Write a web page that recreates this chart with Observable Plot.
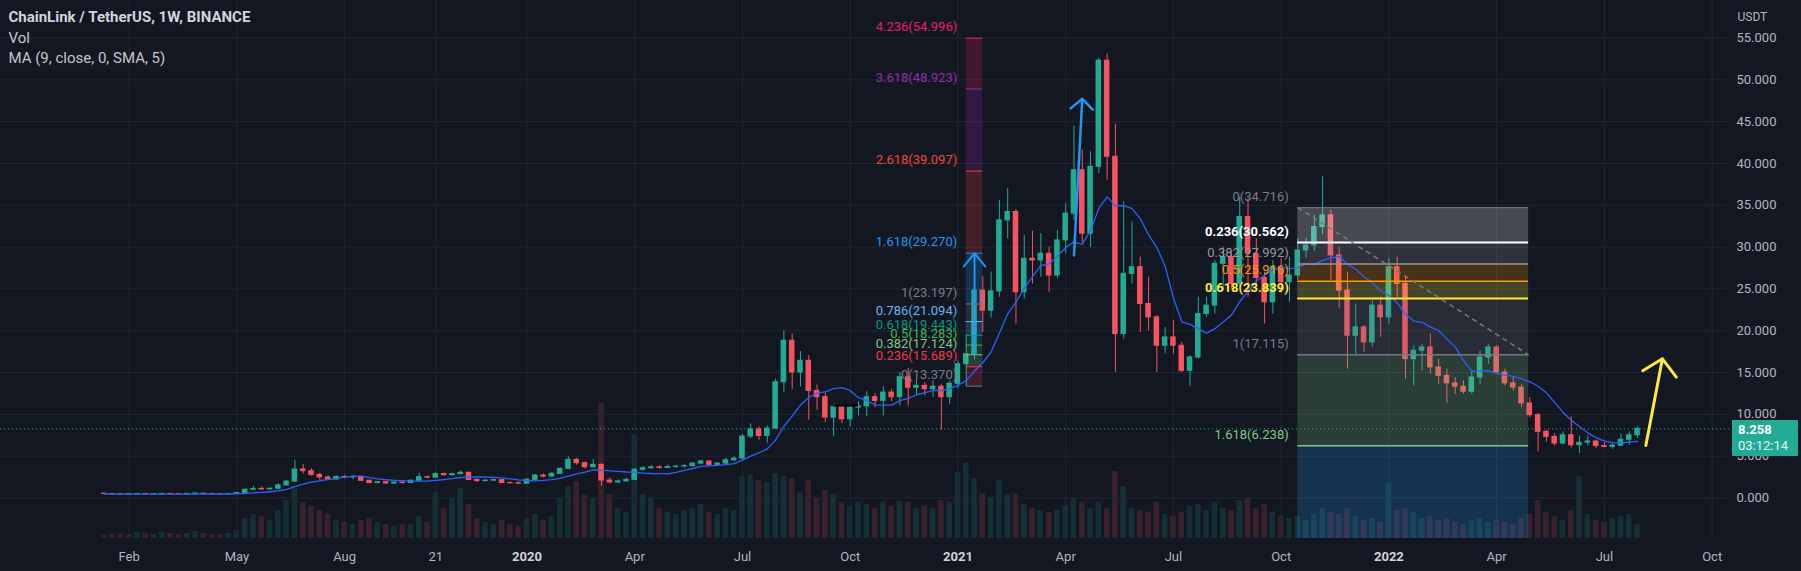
<!DOCTYPE html>
<html><head><meta charset="utf-8">
<script src="https://cdn.jsdelivr.net/npm/d3@7"></script>
<script src="https://cdn.jsdelivr.net/npm/@observablehq/plot@0.6"></script>
<style>
html,body{margin:0;padding:0;background:#131722;}
#wrap{position:relative;width:1801px;height:571px;overflow:hidden;background:#131722;font-family:Roboto,"Liberation Sans",sans-serif;}
#wrap svg{position:absolute;left:0;top:0;}
#pbox{position:absolute;background:#22ab94;color:#fff;font-size:13px;line-height:16px;padding:2px 0 0 6px;box-sizing:border-box;}
</style></head><body><div id="wrap"></div>
<script>
// ---- weekly candles LINK/USDT (Binance), Jan 14 2019 .. Aug 1 2022 ----
const firstWeek = "2019-01-14", afterLastWeek = "2022-08-02";
const opens = [
0.50,0.47,0.44,0.42,0.45,0.47,0.44,0.46,0.48,0.45,
0.44,0.48,0.52,0.48,0.46,0.44,0.48,0.58,0.98,1.08,
1.02,1.10,1.50,1.95,3.40,3.20,2.75,2.45,2.20,2.50,
2.45,2.50,2.05,1.78,1.88,1.72,1.84,1.78,2.05,2.48,
2.42,2.85,2.72,2.84,3.00,2.15,2.02,2.06,2.14,1.78,
1.75,1.70,2.16,2.68,2.55,2.88,3.47,4.55,4.15,3.67,
3.96,2.08,1.85,1.98,2.16,3.36,3.55,3.65,3.58,3.70,
3.75,3.80,4.10,4.35,3.95,4.10,4.50,4.70,7.34,8.20,
7.40,8.30,13.84,18.80,15.00,16.40,12.80,12.05,9.60,10.85,
9.40,10.80,10.95,12.05,11.60,12.60,12.05,14.44,13.17,13.40,
13.00,13.30,12.05,13.65,16.00,17.20,24.80,22.40,24.70,33.20,
34.20,24.60,28.60,28.40,29.20,26.60,30.80,34.00,39.20,31.60,
39.60,52.30,40.80,19.60,26.80,27.60,23.20,21.60,18.20,19.20,
18.20,15.20,16.80,22.00,23.00,28.00,28.80,25.60,33.60,29.20,
26.30,23.40,27.60,25.80,26.60,29.60,30.20,32.40,33.80,29.00,
24.80,19.40,20.40,18.60,23.00,21.60,27.60,25.60,16.60,17.60,
18.00,15.60,14.60,13.70,13.30,12.70,14.40,16.80,18.00,15.00,
13.70,13.20,11.30,9.90,7.90,7.30,6.50,7.50,6.30,6.60,
6.75,6.20,6.10,6.25,6.95,7.50];
const highs = [
0.58,0.49,0.46,0.47,0.49,0.52,0.47,0.50,0.50,0.48,
0.50,0.60,0.55,0.50,0.48,0.50,0.60,1.05,1.35,1.30,
1.15,1.70,2.10,4.50,4.00,3.50,2.95,2.60,2.65,2.70,
2.65,2.60,2.15,1.95,1.95,1.88,1.92,2.15,2.95,2.65,
3.00,2.98,2.95,3.25,3.10,2.30,2.20,2.25,2.20,1.90,
1.92,2.30,2.80,2.85,3.05,3.60,4.90,4.75,4.30,4.60,
4.05,2.40,2.15,2.30,3.50,3.75,3.90,3.85,3.95,3.90,
4.00,4.20,4.50,4.45,4.25,4.75,4.95,7.60,8.85,8.50,
8.60,14.20,20.00,19.60,17.50,17.00,13.50,12.50,11.20,11.00,
11.00,11.50,12.70,12.50,13.30,13.00,15.00,15.50,14.20,13.80,
14.00,13.60,14.00,16.40,19.50,25.90,26.50,27.00,35.60,37.00,
34.50,31.40,31.90,31.60,30.00,32.00,35.20,44.50,41.60,41.40,
52.60,53.10,44.70,35.40,33.00,28.80,26.40,21.80,20.40,21.20,
18.60,17.00,24.00,24.00,28.40,30.00,29.50,36.00,35.80,31.00,
27.00,28.40,28.60,28.80,31.00,31.00,33.80,38.40,34.40,30.00,
27.00,23.20,20.60,23.60,24.00,28.60,28.80,26.40,18.20,18.40,
19.60,16.60,15.40,14.40,14.00,15.20,17.60,18.40,18.20,15.40,
14.40,13.60,12.00,10.10,8.10,7.70,7.90,9.70,7.40,7.40,
6.90,6.60,6.50,7.60,7.90,8.50];
const lows = [
0.44,0.42,0.39,0.41,0.44,0.42,0.41,0.44,0.44,0.43,
0.43,0.46,0.46,0.44,0.41,0.43,0.47,0.55,0.90,0.92,
0.90,1.05,1.45,1.90,2.88,2.60,2.10,2.10,2.10,2.30,
2.20,1.95,1.70,1.70,1.62,1.60,1.65,1.72,2.00,2.30,
2.35,2.60,2.62,2.78,2.08,1.85,1.88,1.95,1.70,1.68,
1.65,1.66,2.10,2.40,2.45,2.80,3.40,3.90,3.45,3.60,
1.40,1.70,1.78,1.90,2.10,3.20,3.40,3.45,3.50,3.55,
3.60,3.70,3.95,3.85,3.90,4.05,4.40,4.65,7.10,6.90,
6.55,8.20,12.60,13.00,13.30,9.30,10.50,9.00,7.30,8.90,
8.50,9.80,9.70,10.80,9.80,11.50,11.00,11.00,12.30,12.20,
12.00,8.10,11.20,13.05,13.37,16.50,19.80,21.50,24.00,31.00,
20.80,23.80,25.60,26.40,24.60,26.20,29.20,33.20,30.50,30.00,
38.80,38.00,15.00,19.00,25.60,19.80,20.00,15.00,17.20,17.20,
15.00,13.30,16.60,21.60,22.00,24.80,25.00,25.20,24.00,25.50,
20.80,22.00,24.50,23.40,26.00,28.70,29.50,31.50,26.00,22.60,
15.40,17.20,17.40,18.00,19.20,20.80,24.00,14.20,13.40,15.20,
14.80,13.60,11.30,12.40,12.40,12.40,13.60,16.00,14.80,13.40,
12.80,10.80,9.60,5.50,6.70,6.20,6.40,6.00,5.30,6.20,
5.90,6.00,5.80,6.20,6.30,7.10];
const closes = [
0.47,0.44,0.42,0.45,0.47,0.44,0.46,0.48,0.45,0.44,
0.48,0.52,0.48,0.46,0.44,0.48,0.58,0.98,1.08,1.02,
1.10,1.50,1.95,3.40,3.20,2.75,2.45,2.20,2.50,2.45,
2.50,2.05,1.78,1.88,1.72,1.84,1.78,2.05,2.48,2.42,
2.85,2.72,2.84,3.00,2.15,2.02,2.06,2.14,1.78,1.75,
1.70,2.16,2.68,2.55,2.88,3.47,4.55,4.15,3.67,3.96,
2.08,1.85,1.98,2.16,3.36,3.55,3.65,3.58,3.70,3.75,
3.80,4.10,4.35,3.95,4.10,4.50,4.70,7.34,8.20,7.40,
8.30,13.84,18.80,15.00,16.40,12.80,12.05,9.60,10.85,9.40,
10.80,10.95,12.05,11.60,12.60,12.05,14.44,13.17,13.40,13.00,
13.30,12.05,13.65,16.00,17.20,24.80,22.40,24.70,33.20,34.20,
24.60,28.60,28.40,29.20,26.60,30.80,34.00,39.20,31.60,39.60,
52.30,40.80,19.60,26.80,27.60,23.20,21.60,18.20,19.20,18.20,
15.20,16.80,22.00,23.00,28.00,28.80,25.60,33.60,29.20,26.30,
23.40,27.60,25.80,26.60,29.60,30.20,32.40,33.80,29.00,24.80,
19.40,20.40,18.60,23.00,21.60,27.60,25.60,16.60,17.60,18.00,
15.60,14.60,13.70,13.30,12.70,14.40,16.80,18.00,15.00,13.70,
13.20,11.30,9.90,7.90,7.30,6.50,7.50,6.30,6.60,6.75,
6.20,6.10,6.25,6.95,7.50,8.258];
const volumes = [ // millions (approx)
3,4,5,4,6,5,4,6,5,4,
5,7,5,4,4,5,8,20,24,22,
18,28,38,50,36,32,28,24,18,16,
14,18,20,16,14,12,14,14,22,16,
46,30,40,50,34,20,16,14,18,14,
12,20,24,18,22,40,52,57,44,40,
135,44,30,26,104,44,40,30,26,24,
28,30,34,26,24,30,28,62,64,58,
56,65,62,60,46,58,40,48,44,36,
32,36,34,30,36,32,37,36,30,32,
30,38,36,66,75,60,45,40,58,44,
45,34,30,28,26,28,32,40,36,30,
36,30,67,52,30,28,26,36,24,22,
26,32,34,28,36,30,28,38,40,30,
34,26,22,20,22,18,24,30,26,24,
30,22,18,20,16,55,28,30,26,20,
22,18,20,16,14,18,20,16,18,16,
14,20,24,38,26,22,18,28,62,24,
18,16,20,22,24,14];

// ---- axes ----
const priceTicks = [0,5,10,15,20,25,30,35,40,45,50,55];
const timeTickDates = ["2019-02-04","2019-05-06","2019-08-05","2019-10-21","2020-01-06","2020-04-06","2020-07-06","2020-10-05","2021-01-04","2021-04-05","2021-07-05","2021-10-04","2022-01-03","2022-04-04","2022-07-04","2022-10-03"];
const timeTickLabels = ["Feb","May","Aug","21","2020","Apr","Jul","Oct","2021","Apr","Jul","Oct","2022","Apr","Jul","Oct"];
const yearLabels = ["2020","2021","2022"];

// ---- MA ----
const maLength = 9;

// ---- left: trend-based fib extension ----
const leftFibStart = "2021-01-11", leftFibEnd = "2021-01-25";
const leftFibLevels = ["0","0.236","0.382","0.5","0.618","0.786","1","1.618","2.618","3.618","4.236"];
const leftFibPrices = [13.370,15.689,17.124,18.283,19.443,21.094,23.197,29.270,39.097,48.923,54.996];
const leftFibColors = ["#787b86","#f23645","#81c784","#4caf50","#089981","#64b5f6","#787b86","#2196f3","#f44336","#9c27b0","#e91e63"];

// ---- right: fib retracement ----
const rightFibStart = "2021-10-18", rightFibEnd = "2022-05-01";
const rightFibLevels = ["0","0.236","0.382","0.5","0.618","1","1.618","2.618"];
const rightFibPrices = [34.716,30.562,27.992,25.916,23.839,17.115,6.238,-11.365];
const rightFibColors = ["#787b86","#ffffff","#9598a1","#ff9800","#ffeb3b","#787b86","#81c784","#2196f3"];
const rightFibBold = ["0.236","0.618"];

// ---- arrows ----
const arrowStartDates = ["2021-01-18","2021-04-12","2022-08-08"];
const arrowStartPrices = [17.2,29.0,6.27];
const arrowEndDates = ["2021-01-18","2021-04-19","2022-08-22"];
const arrowEndPrices = [29.27,47.74,16.64];
const arrowColors = ["#2196f3","#2196f3","#ffeb3b"];

// ---- small horizontal drawing ----
const hLineDates = ["2020-09-21","2020-10-12"];
const hLinePrice = 11.05;

// ---- legend ----
const titleText = "ChainLink / TetherUS, 1W, BINANCE";
const legendLines = ["Vol","MA (9, close, 0, SMA, 5)"];
const currency = "USDT";
const countdown = "03:12:14";

// ================= build =================
const UP = "#22ab94", DOWN = "#f7525f", GRID = "#232733", BG = "#131722", TXT = "#b2b5be";
const W = 1801, H = 571, MR = 71, MB = 33;
const xDomain = [new Date("2018-10-18T08:00Z"), new Date("2022-10-18T12:00Z")];
const yDomain = [-4.856, 59.5];
const D = s => new Date(s);

const dates = d3.utcMonday.range(D(firstWeek), D(afterLastWeek));
const candles = dates.map((date, i) => ({date, open: opens[i], high: highs[i], low: lows[i], close: closes[i], volume: volumes[i]}));
const col = d => d.close >= d.open ? UP : DOWN;
const bodyLeft = d => d3.utcHour.offset(d.date, -56);
const bodyRight = d => d3.utcHour.offset(d.date, 56);
const lastClose = closes[closes.length - 1];

const tickDates = timeTickDates.map(D);
const labelMap = new Map(tickDates.map((d, i) => [+d, timeTickLabels[i]]));
const yearTicks = tickDates.filter(d => yearLabels.includes(labelMap.get(+d)));
const monthTicks = tickDates.filter(d => !yearLabels.includes(labelMap.get(+d)));

const leftRows = leftFibLevels.map((level, i) => ({level, price: leftFibPrices[i], color: leftFibColors[i]}));
const leftBands = leftRows.slice(1).map((r, i) => ({y1: leftRows[i].price, y2: r.price, color: r.color}));
const rightRows = rightFibLevels.map((level, i) => ({level, price: rightFibPrices[i], color: rightFibColors[i]}));
const rightBands = rightRows.slice(1).map((r, i) => ({y1: rightRows[i].price, y2: r.price, color: r.color}));
const rightVisible = rightRows.filter(r => r.price > yDomain[0]);
const fibLabel = d => `${d.level}(${d.price.toFixed(3)})`;
const arrows = arrowStartDates.map((s, i) => ({x1: D(s), y1: arrowStartPrices[i], x2: D(arrowEndDates[i]), y2: arrowEndPrices[i], color: arrowColors[i]}));
const lineWidth = d => (d.level === "0" ? 1 : (d.level === "1" || d.level === "0.382" || d.level === "1.618" || d.level === "0.5") ? 1.5 : 2);

const wrap = document.getElementById("wrap");

// volume pane (bottom layer)
const volPlot = Plot.plot({
  width: W, height: H, marginLeft: 0, marginRight: MR, marginTop: 0, marginBottom: MB,
  style: {background: BG},
  x: {type: "utc", domain: xDomain, axis: null},
  y: {domain: [0, H - MB], axis: null},
  marks: [
    Plot.rect(candles, {x1: bodyLeft, x2: bodyRight, y1: 0, y2: "volume", fill: col, fillOpacity: 0.17})
  ]
});
wrap.appendChild(volPlot);

const main = Plot.plot({
  width: W, height: H, marginLeft: 0, marginRight: MR, marginTop: 0, marginBottom: MB,
  style: {background: "transparent", color: TXT, fontFamily: "Roboto, 'Liberation Sans', sans-serif"},
  x: {type: "utc", domain: xDomain},
  y: {domain: yDomain},
  marks: [
    Plot.ruleY(priceTicks, {stroke: GRID}),
    Plot.ruleX(tickDates, {stroke: GRID}),
    // candles
    Plot.ruleX(candles, {x: "date", y1: "low", y2: "high", stroke: col, strokeWidth: 1}),
    Plot.rect(candles, {x1: bodyLeft, x2: bodyRight, y1: "open", y2: "close", fill: col, insetTop: -0.5, insetBottom: -0.5}),
    // fib fills
    Plot.rect(leftBands, {x1: () => D(leftFibStart), x2: () => D(leftFibEnd), y1: "y1", y2: "y2", fill: "color", fillOpacity: 0.22, clip: true}),
    Plot.rect(rightBands, {x1: () => D(rightFibStart), x2: () => D(rightFibEnd), y1: "y1", y2: "y2", fill: "color", fillOpacity: 0.22, clip: true}),
    // MA
    Plot.lineY(candles, Plot.windowY({k: maLength, anchor: "end", reduce: "mean"}, {x: "date", y: "close", stroke: "#2962ff", strokeWidth: 1.3})),
    // last price line
    Plot.ruleY([lastClose], {stroke: UP, strokeDasharray: "1,3", strokeWidth: 1}),
    // horizontal drawing
    Plot.ruleY([hLinePrice], {x1: D(hLineDates[0]), x2: D(hLineDates[1]), stroke: "#000000", strokeWidth: 2}),
    // fib level lines
    Plot.ruleY(leftRows, {y: "price", x1: () => D(leftFibStart), x2: () => D(leftFibEnd), stroke: "color", strokeWidth: 1}),
    Plot.ruleY(rightVisible, {y: "price", x1: () => D(rightFibStart), x2: () => D(rightFibEnd), stroke: "color", strokeWidth: lineWidth}),
    Plot.link([0], {x1: () => D(rightFibStart), y1: () => rightFibPrices[0], x2: () => D(rightFibEnd), y2: () => rightFibPrices[5], stroke: "#787b86", strokeDasharray: "5,4", strokeWidth: 1.5}),
    // fib labels
    Plot.text(leftRows, {x: () => D(leftFibStart), y: "price", text: fibLabel, fill: "color", textAnchor: "end", dx: -9, dy: -11, fontSize: 13}),
    Plot.text(rightVisible.filter(d => !rightFibBold.includes(d.level)), {x: () => D(rightFibStart), y: "price", text: fibLabel, fill: "color", textAnchor: "end", dx: -9, dy: -11, fontSize: 13}),
    Plot.text(rightVisible.filter(d => rightFibBold.includes(d.level)), {x: () => D(rightFibStart), y: "price", text: fibLabel, fill: "color", textAnchor: "end", dx: -9, dy: -11, fontSize: 13, fontWeight: "bold"}),
    // arrows
    Plot.arrow(arrows.slice(0, 1), {x1: "x1", y1: "y1", x2: "x2", y2: "y2", stroke: "color", strokeWidth: 2, headAngle: 78, headLength: 12.75}),
    Plot.arrow(arrows.slice(1, 2), {x1: "x1", y1: "y1", x2: "x2", y2: "y2", stroke: "color", strokeWidth: 2.5, headAngle: 95, headLength: 9}),
    Plot.arrow(arrows.slice(2, 3), {x1: "x1", y1: "y1", x2: "x2", y2: "y2", stroke: "color", strokeWidth: 3, headAngle: 96, headLength: 11.5}),
    // axes
    Plot.axisY({anchor: "right", ticks: priceTicks, tickFormat: d3.format(".3f"), tickSize: 0, tickPadding: 6, fontSize: 13}),
    Plot.axisX({ticks: monthTicks, tickFormat: d => labelMap.get(+d), tickSize: 0, tickPadding: 13, fontSize: 13, label: null}),
    Plot.axisX({ticks: yearTicks, tickFormat: d => labelMap.get(+d), tickSize: 0, tickPadding: 13, fontSize: 13, fontWeight: "bold", fill: "#d1d4dc", label: null}),
    Plot.text([currency], {frameAnchor: "top-right", dx: 7, dy: 17, textAnchor: "start", lineAnchor: "middle", fontSize: 12, fill: TXT}),
    // legend
    Plot.text([titleText], {frameAnchor: "top-left", dx: 8, dy: 17, textAnchor: "start", lineAnchor: "middle", fontSize: 15, fontWeight: "bold", fill: "#d1d4dc"}),
    Plot.text(legendLines.slice(0, 1), {frameAnchor: "top-left", dx: 8, dy: 38, textAnchor: "start", lineAnchor: "middle", fontSize: 15, fill: "#c3c6ce"}),
    Plot.text(legendLines.slice(1), {frameAnchor: "top-left", dx: 8, dy: 58, textAnchor: "start", lineAnchor: "middle", fontSize: 15, fill: "#c3c6ce"})
  ]
});
wrap.appendChild(main);

// current price tag on the price scale
const yp = main.scale("y").apply(lastClose);
const box = document.createElement("div");
box.id = "pbox";
box.style.left = (W - MR + 2) + "px";
box.style.top = (yp - 8) + "px";
box.style.width = "66px";
box.style.height = "36px";
box.innerHTML = `<div style="font-weight:bold">${lastClose.toFixed(3)}</div><div style="color:#e6f5f2">${countdown}</div>`;
wrap.appendChild(box);
</script></body></html>
